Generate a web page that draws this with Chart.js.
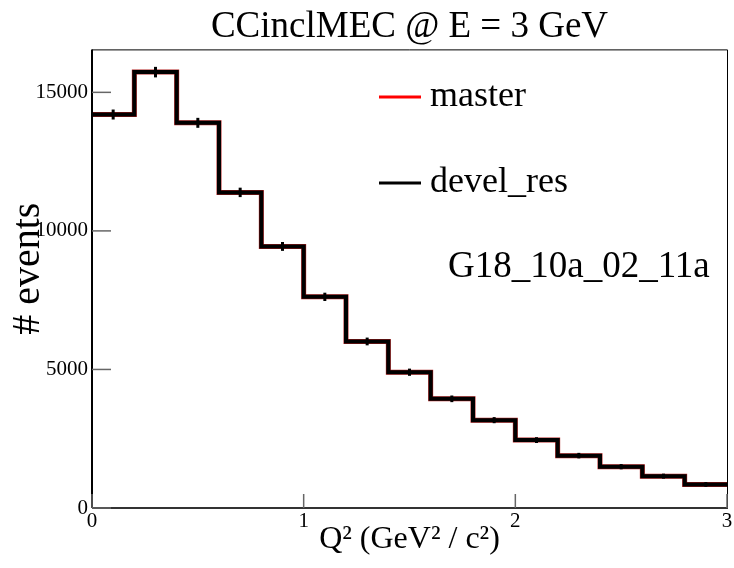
<!DOCTYPE html>
<html>
<head>
<meta charset="utf-8">
<script src="https://cdn.jsdelivr.net/npm/chart.js@4.4.1/dist/chart.umd.min.js"></script>
<style>
  body { margin: 0; background: #ffffff; }
  #wrap { width: 734px; height: 568px; }
</style>
</head>
<body>
<div id="wrap"><canvas id="myChart"></canvas></div>
<script>
// bin edges of Q^2 (GeV^2 / c^2), 15 bins of 0.2
const binEdges = [0, 0.2, 0.4, 0.6, 0.8, 1.0, 1.2, 1.4, 1.6, 1.8, 2.0, 2.2, 2.4, 2.6, 2.8, 3.0];

// event counts per bin
const masterCounts = [14200, 15730, 13900, 11390, 9440, 7620, 6010, 4900, 3940, 3170, 2450, 1890, 1490, 1150, 850];
const develCounts  = [14200, 15730, 13900, 11390, 9440, 7620, 6010, 4900, 3940, 3170, 2450, 1890, 1490, 1150, 850];
const develErrors  = [180, 190, 180, 170, 160, 150, 140, 130, 120, 110, 105, 100, 95, 90, 85];

const seriesLabels = ["master", "devel_res"];
const seriesColors = ["#ff0000", "#000000"];

const xTicks = [0, 1, 2, 3];
const yTicks = [0, 5000, 10000, 15000];

const FONT = "'Liberation Serif', 'Times New Roman', serif";

function stepPoints(counts) {
    const pts = counts.map((v, i) => ({ x: binEdges[i], y: v }));
    pts.push({ x: binEdges[binEdges.length - 1], y: counts[counts.length - 1] });
    return pts;
}

const rootStyle = {
    id: "rootStyle",
    afterDatasetsDraw(chart) {
        const ctx = chart.ctx;
        const xs = chart.scales.x;
        const ys = chart.scales.y;
        const area = chart.chartArea;

        // error bars at bin centres
        ctx.save();
        ctx.strokeStyle = "#000000";
        ctx.lineWidth = 3;
        for (let i = 0; i < develCounts.length; i++) {
            const xc = xs.getPixelForValue((binEdges[i] + binEdges[i + 1]) / 2);
            ctx.beginPath();
            ctx.moveTo(xc, ys.getPixelForValue(develCounts[i] + develErrors[i]));
            ctx.lineTo(xc, ys.getPixelForValue(develCounts[i] - develErrors[i]));
            ctx.stroke();
        }
        ctx.restore();

        // frame
        ctx.save();
        ctx.strokeStyle = "#000000";
        ctx.lineWidth = 1;
        ctx.beginPath();
        ctx.moveTo(area.left, area.top + 0.5);
        ctx.lineTo(area.right + 0.5, area.top + 0.5);
        ctx.lineTo(area.right + 0.5, area.bottom);
        ctx.stroke();
        ctx.lineWidth = 2;
        ctx.beginPath();
        ctx.moveTo(area.left, area.top);
        ctx.lineTo(area.left, area.bottom);
        ctx.stroke();
        ctx.strokeStyle = "#333333";
        ctx.beginPath();
        ctx.moveTo(area.left, area.bottom);
        ctx.lineTo(area.right + 1, area.bottom);
        ctx.stroke();

        // inward tick marks
        ctx.strokeStyle = "#666666";
        ctx.lineWidth = 1.5;
        yTicks.forEach(v => {
            const y = ys.getPixelForValue(v);
            ctx.beginPath();
            ctx.moveTo(area.left, y);
            ctx.lineTo(area.left + 19, y);
            ctx.stroke();
        });
        xTicks.forEach(v => {
            const x = xs.getPixelForValue(v);
            ctx.beginPath();
            ctx.moveTo(x, area.bottom);
            ctx.lineTo(x, area.bottom - 14);
            ctx.stroke();
        });
        ctx.restore();

        // legend and tune label
        ctx.save();
        ctx.textBaseline = "middle";
        ctx.textAlign = "left";
        ctx.font = "36px " + FONT;
        const legendY = [97, 183];
        seriesLabels.forEach((lab, i) => {
            ctx.strokeStyle = seriesColors[i];
            ctx.lineWidth = 3;
            ctx.beginPath();
            ctx.moveTo(379, legendY[i]);
            ctx.lineTo(421, legendY[i]);
            ctx.stroke();
            ctx.fillStyle = "#000000";
            ctx.fillText(lab, 430, legendY[i]);
        });
        ctx.font = "37px " + FONT;
        ctx.fillText("G18_10a_02_11a", 448, 267);
        ctx.restore();
    }
};

document.addEventListener("DOMContentLoaded", function () {
    const ctx = document.getElementById("myChart").getContext("2d");

    new Chart(ctx, {
        type: "line",
        data: {
            datasets: [
                {
                    label: seriesLabels[1],
                    data: stepPoints(develCounts),
                    borderColor: seriesColors[1],
                    borderWidth: 4,
                    stepped: "before",
                    pointRadius: 0,
                    fill: false,
                    order: 0
                },
                {
                    label: seriesLabels[0],
                    data: stepPoints(masterCounts),
                    borderColor: "#b02020",
                    borderWidth: 5,
                    stepped: "before",
                    pointRadius: 0,
                    fill: false,
                    order: 1
                }
            ]
        },
        options: {
            responsive: true,
            maintainAspectRatio: false,
            animation: false,
            layout: { padding: { left: 0, right: 7, top: 0, bottom: 0 } },
            plugins: {
                legend: { display: false },
                tooltip: { enabled: false },
                title: {
                    display: true,
                    text: "CCinclMEC @ E = 3 GeV",
                    fullSize: false,
                    color: "#000000",
                    font: { family: FONT, size: 37, weight: "normal" },
                    padding: { top: 5, bottom: 0 }
                }
            },
            scales: {
                x: {
                    type: "linear",
                    min: 0,
                    max: 3,
                    afterBuildTicks: s => { s.ticks = xTicks.map(v => ({ value: v })); },
                    afterFit: s => { s.height = 60; },
                    grid: { display: false, drawTicks: false, tickLength: 0 },
                    border: { display: false },
                    ticks: {
                        padding: 1,
                        color: "#000000",
                        maxRotation: 0,
                        autoSkip: false,
                        callback: v => String(v),
                        font: { family: FONT, size: 21 }
                    },
                    title: {
                        display: true,
                        text: "Q² (GeV² / c²)",
                        color: "#000000",
                        font: { family: FONT, size: 32 },
                        padding: { top: 0, bottom: 9 }
                    }
                },
                y: {
                    type: "linear",
                    min: 0,
                    max: 16550,
                    afterBuildTicks: s => { s.ticks = yTicks.map(v => ({ value: v })); },
                    afterFit: s => { s.width = 92; },
                    grid: { display: false, drawTicks: false, tickLength: 0 },
                    border: { display: false },
                    ticks: {
                        padding: 4,
                        color: "#000000",
                        autoSkip: false,
                        callback: v => String(v),
                        font: { family: FONT, size: 21 }
                    },
                    title: {
                        display: true,
                        text: "  # events",
                        color: "#000000",
                        font: { family: FONT, size: 40 },
                        padding: { top: 4, bottom: 0 }
                    }
                }
            }
        },
        plugins: [rootStyle]
    });
});
</script>
</body>
</html>
